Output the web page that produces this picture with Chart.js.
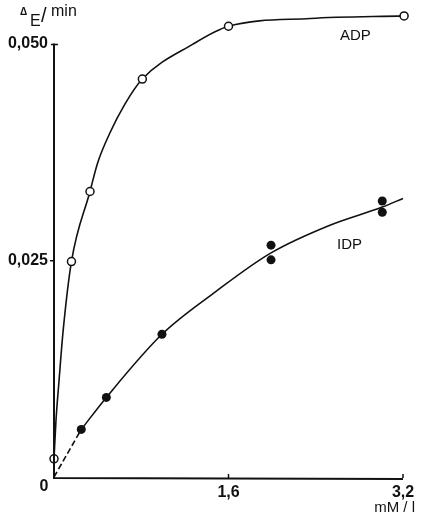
<!DOCTYPE html>
<html>
<head>
<meta charset="utf-8">
<script src="https://cdn.jsdelivr.net/npm/chart.js@4"></script>
<style>
  html, body { margin: 0; padding: 0; background: #fff; }
  canvas { display: block; }
</style>
</head>
<body>
<canvas id="chart" width="424" height="515"></canvas>
<script>
// measured points (ADP open, IDP filled), mM/l vs ΔE/min
const adpX = [0, 0.16, 0.33, 0.81, 1.6, 3.21];
const adpY = [0.0021, 0.0249, 0.033, 0.046, 0.0521, 0.0533];
const idpX = [0.25, 0.48, 0.99, 1.99, 1.99, 3.01, 3.01];
const idpY = [0.0055, 0.0092, 0.0165, 0.0268, 0.0251, 0.0319, 0.0306];

// hand-drawn fit curves
const adpCurveX = [0, 0.018, 0.046, 0.083, 0.16, 0.33, 0.40, 0.51, 0.65, 0.81, 1.27, 1.6, 2.35, 3.21];
const adpCurveY = [0.0021, 0.0065, 0.0111, 0.0168, 0.0249, 0.033, 0.0363, 0.0397, 0.0431, 0.046, 0.05, 0.0521, 0.053, 0.0533];
const idpCurveX = [0.25, 0.48, 0.99, 1.48, 1.99, 2.53, 3.01, 3.2];
const idpCurveY = [0.0055, 0.0092, 0.0165, 0.0214, 0.0259, 0.0291, 0.0312, 0.0322];
const idpDashX = [0, 0.25];
const idpDashY = [0, 0.0055];

const xTicks = [0, 1.6, 3.2];
const xTickLabels = ["0", "1,6", "3,2"];
const yTicks = [0.025, 0.05];
const yTickLabels = ["0,025", "0,050"];

const FONT = '"Liberation Sans", Arial, sans-serif';
const pts = (xs, ys) => xs.map((x, i) => ({ x, y: ys[i] }));

function curve(xs, ys, dash) {
  return {
    data: pts(xs, ys),
    showLine: true,
    borderColor: "#111",
    borderWidth: 1.6,
    borderDash: dash || [],
    pointRadius: 0,
    cubicInterpolationMode: "monotone",
    clip: false,
    order: 2,
  };
}

const axesPlugin = {
  id: "axes",
  afterDraw(chart) {
    const { ctx, scales: { x, y } } = chart;
    const x0 = x.getPixelForValue(0);
    const y0 = y.getPixelForValue(0);
    const yTop = y.getPixelForValue(0.05);
    const xEnd = x.getPixelForValue(3.2);
    ctx.save();
    ctx.strokeStyle = "#111";
    ctx.fillStyle = "#111";
    ctx.lineWidth = 2;
    ctx.beginPath();
    ctx.moveTo(x0, yTop - 1);
    ctx.lineTo(x0, y0 + 1);
    ctx.lineTo(xEnd, y0 + 2);
    ctx.stroke();

    // y ticks
    ctx.lineWidth = 1.5;
    ctx.beginPath();
    ctx.moveTo(x0 - 3, yTop); ctx.lineTo(x0 + 4, yTop);
    const yMid = y.getPixelForValue(0.025);
    ctx.moveTo(x0 - 4, yMid); ctx.lineTo(x0, yMid);
    // x ticks
    [1.6, 3.2].forEach((v) => {
      const px = x.getPixelForValue(v);
      ctx.moveTo(px, y0 - 3); ctx.lineTo(px, y0 + 1);
    });
    ctx.stroke();

    ctx.font = "bold 16px " + FONT;
    ctx.textAlign = "right";
    ctx.textBaseline = "alphabetic";
    yTicks.forEach((v, i) => {
      ctx.fillText(yTickLabels[i], x0 - 6, y.getPixelForValue(v) + 4);
    });
    ctx.textAlign = "center";
    xTicks.forEach((v, i) => {
      const px = v === 0 ? x0 - 10 : x.getPixelForValue(v);
      ctx.fillText(xTickLabels[i], px, y0 + (v === 0 ? 14 : 20));
    });

    // axis titles
    ctx.font = "15px " + FONT;
    ctx.textAlign = "right";
    ctx.fillText("mM / l", 415, 512);
    ctx.textAlign = "left";
    ctx.font = "bold 10px " + FONT;
    ctx.fillText("Δ", 20, 15);
    ctx.font = "16px " + FONT;
    ctx.fillText("E", 30, 26);
    ctx.font = "20px " + FONT;
    ctx.fillText("/", 41, 22);
    ctx.font = "16px " + FONT;
    ctx.fillText("min", 51, 16);

    // series labels
    ctx.font = "15px " + FONT;
    ctx.fillText("ADP", 340, 40);
    ctx.fillText("IDP", 337, 249);
    ctx.restore();
  },
};

new Chart(document.getElementById("chart"), {
  type: "scatter",
  data: {
    datasets: [
      {
        label: "ADP",
        data: pts(adpX, adpY),
        pointRadius: 4,
        pointBorderWidth: 1.5,
        pointBackgroundColor: "#fff",
        pointBorderColor: "#111",
        clip: false,
        order: 0,
      },
      {
        label: "IDP",
        data: pts(idpX, idpY),
        pointRadius: 4.5,
        pointBorderWidth: 0,
        pointBackgroundColor: "#111",
        pointBorderColor: "#111",
        clip: false,
        order: 0,
      },
      curve(adpCurveX, adpCurveY),
      curve(idpCurveX, idpCurveY),
      curve(idpDashX, idpDashY, [6, 3]),
    ],
  },
  options: {
    responsive: false,
    animation: false,
    layout: { padding: { left: 54, right: 21, top: 1, bottom: 38 } },
    scales: {
      x: { type: "linear", min: 0, max: 3.2, display: false },
      y: { type: "linear", min: 0, max: 0.0545, display: false },
    },
    plugins: { legend: { display: false }, tooltip: { enabled: false } },
  },
  plugins: [axesPlugin],
});
</script>
</body>
</html>
